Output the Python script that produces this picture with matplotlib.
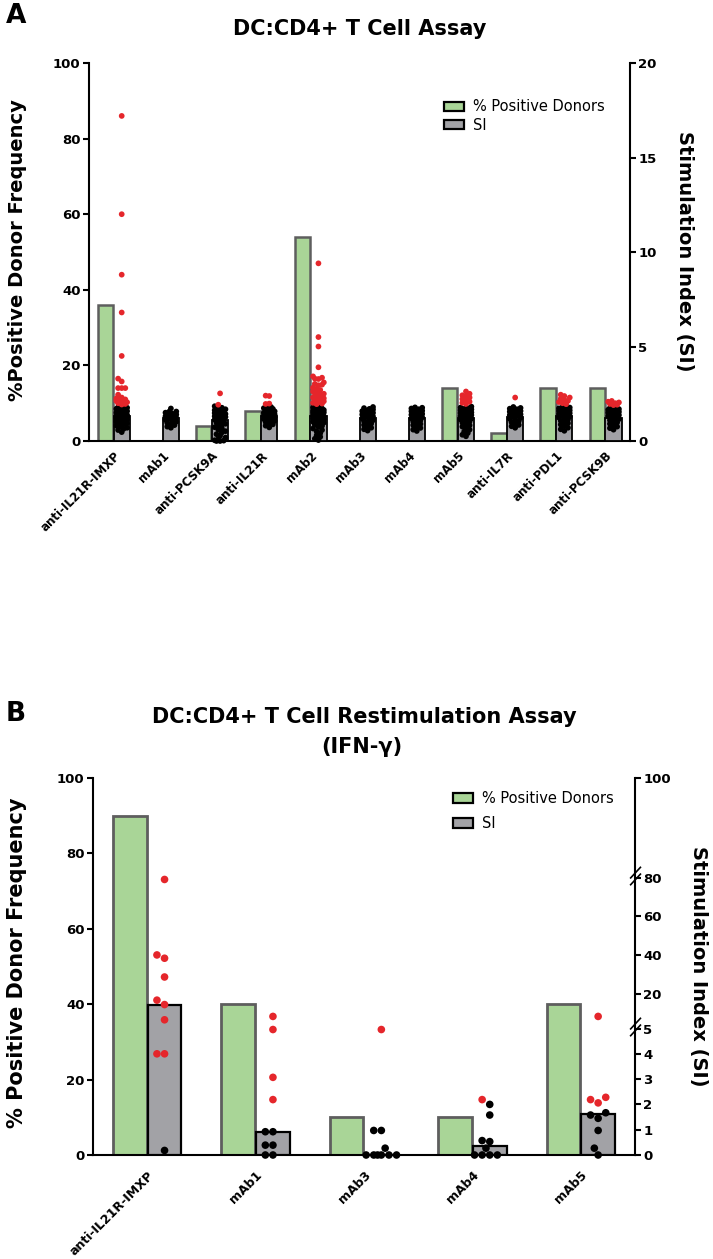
import numpy as np
import matplotlib
matplotlib.use('Agg')
import matplotlib.pyplot as plt
from matplotlib.patches import Patch

plt.rcParams['font.family'] = ['DejaVu Sans']
plt.rcParams['font.weight'] = 'bold'
plt.rcParams['axes.linewidth'] = 1.5

# ---- Panel A data: DC:CD4+ T cell assay ----
a_labels = ['anti-IL21R-IMXP', 'mAb1', 'anti-PCSK9A', 'anti-IL21R', 'mAb2', 'mAb3',
            'mAb4', 'mAb5', 'anti-IL7R', 'anti-PDL1', 'anti-PCSK9B']
a_pct_pos = [36, 0, 4, 8, 54, 0, 0, 14, 2, 14, 14]
a_si_bar = [1.3, 1.2, 1.1, 1.3, 1.3, 1.2, 1.2, 1.2, 1.25, 1.3, 1.2]
a_si_black = [
    [1.79, 1.76, 1.74, 1.71, 1.7, 1.66, 1.64, 1.6, 1.58, 1.57, 1.53, 1.5, 1.47, 1.46, 1.41, 1.38,
     1.36, 1.33, 1.3, 1.27, 1.22, 1.2, 1.16, 1.12, 1.08, 1.03, 0.98, 0.93, 0.88, 0.81, 0.77, 0.7,
     0.64, 0.58, 0.47],
    [1.72, 1.56, 1.55, 1.5, 1.44, 1.4, 1.36, 1.31, 1.28, 1.22, 1.18, 1.12, 1.07, 1.02, 0.96,
     0.9, 0.84, 0.76, 0.7],
    [1.84, 1.76, 1.72, 1.68, 1.63, 1.6, 1.55, 1.52, 1.48, 1.43, 1.4, 1.36, 1.31, 1.27, 1.22,
     1.18, 1.13, 1.08, 1.02, 0.97, 0.91, 0.85, 0.79, 0.73, 0.66, 0.6, 0.52, 0.45, 0.36, 0.28,
     0.18, 0.1, 0.04, 0.0, 0.0, 0.02],
    [1.8, 1.78, 1.74, 1.7, 1.67, 1.63, 1.6, 1.57, 1.52, 1.49, 1.45, 1.41, 1.38, 1.33, 1.3, 1.26,
     1.2, 1.16, 1.11, 1.06, 1.0, 0.95, 0.88, 0.81, 0.72],
    [1.8, 1.77, 1.75, 1.72, 1.69, 1.66, 1.64, 1.6, 1.58, 1.55, 1.51, 1.49, 1.45, 1.42, 1.39,
     1.35, 1.31, 1.28, 1.24, 1.2, 1.15, 1.11, 1.07, 1.02, 0.97, 0.92, 0.86, 0.8, 0.74, 0.66,
     0.58, 0.5, 0.41, 0.3, 0.22, 0.12, 0.05],
    [1.8, 1.74, 1.7, 1.66, 1.61, 1.58, 1.53, 1.49, 1.44, 1.4, 1.35, 1.3, 1.26, 1.2, 1.15, 1.1,
     1.04, 0.98, 0.92, 0.85, 0.78, 0.7, 0.62, 0.55],
    [1.78, 1.76, 1.72, 1.68, 1.64, 1.6, 1.57, 1.52, 1.48, 1.43, 1.39, 1.34, 1.3, 1.25, 1.2,
     1.14, 1.09, 1.03, 0.97, 0.9, 0.84, 0.76, 0.69, 0.6, 0.53],
    [1.82, 1.77, 1.74, 1.7, 1.67, 1.63, 1.6, 1.55, 1.51, 1.48, 1.44, 1.4, 1.37, 1.32, 1.28,
     1.24, 1.19, 1.14, 1.08, 1.03, 0.97, 0.9, 0.83, 0.76, 0.68, 0.6, 0.5, 0.42, 0.33, 0.25],
    [1.8, 1.75, 1.71, 1.68, 1.63, 1.59, 1.55, 1.5, 1.46, 1.41, 1.37, 1.32, 1.27, 1.22, 1.17,
     1.11, 1.05, 0.99, 0.92, 0.85, 0.78, 0.7],
    [1.8, 1.77, 1.73, 1.7, 1.66, 1.62, 1.59, 1.55, 1.51, 1.47, 1.43, 1.38, 1.34, 1.29, 1.24,
     1.19, 1.13, 1.07, 1.01, 0.94, 0.87, 0.79, 0.7, 0.62, 0.54],
    [1.75, 1.72, 1.69, 1.65, 1.62, 1.58, 1.54, 1.5, 1.46, 1.42, 1.37, 1.32, 1.27, 1.22, 1.16,
     1.1, 1.04, 0.98, 0.91, 0.84, 0.76, 0.68, 0.6],
]
a_si_red = [
    [17.2, 12.0, 8.8, 6.8, 4.5, 3.3, 3.15, 2.8, 2.8, 2.8, 2.45, 2.3, 2.25, 2.2, 2.2, 2.12,
     2.1, 2.05, 2.0, 1.96, 1.93],
    [],
    [2.52, 1.92],
    [2.4, 2.38, 1.98, 1.96],
    [9.4, 5.5, 5.0, 3.9, 3.42, 3.35, 3.3, 3.28, 3.1, 3.02, 2.98, 2.95, 2.82, 2.76, 2.7, 2.62,
     2.56, 2.5, 2.46, 2.41, 2.38, 2.34, 2.3, 2.26, 2.21, 2.18, 2.14, 2.1, 2.05, 2.02, 1.98, 1.95],
    [],
    [],
    [2.62, 2.5, 2.42, 2.36, 2.3, 2.22, 2.15, 2.08, 2.02, 1.96],
    [2.3],
    [2.45, 2.38, 2.3, 2.24, 2.18, 2.12, 2.06, 2.0, 1.95],
    [2.12, 2.08, 2.04, 2.0, 1.96, 1.92, 1.9],
]

# ---- Panel B data: restimulation assay (IFN-g) ----
b_labels = ['anti-IL21R-IMXP', 'mAb1', 'mAb3', 'mAb4', 'mAb5']
b_pct_pos = [90, 40, 10, 10, 40]
b_si_bar = [15.3, 0.92, 0.0, 0.37, 1.63]
b_si_red = [[79, 40, 38.3, 28.6, 17.2, 15.3, 8.75, 4.0, 4.0],
            [10.2, 4.96, 3.07, 2.19],
            [4.96],
            [2.19],
            [10.2, 2.28, 2.19, 2.06]]
b_si_black = [[0.18],
              [0.92, 0.92, 0.39, 0.39, 0, 0],
              [0.97, 0.97, 0.27, 0, 0, 0, 0, 0, 0],
              [2.0, 1.58, 0.57, 0.53, 0.27, 0, 0, 0, 0],
              [1.67, 1.58, 1.45, 0.97, 0.27, 0]]
# broken right axis of panel B: SI value -> height on the 0-100 scale
b_si_breaks = [0, 5, 20, 80, 100]
b_axis_pos = [0, 33.55, 42.8, 73.6, 100]
b_si_ticks = [0, 1, 2, 3, 4, 5, 20, 40, 60, 80, 100]

GREEN = '#a9d597'
GREEN_EDGE = '#5e5e5e'
GRAY = '#a2a2a6'
RED = '#e5262b'

W, H = 713, 1259
fig = plt.figure(figsize=(W / 100, H / 100), dpi=100)


def px_axes(l, t, r, b):
    return fig.add_axes([l / W, 1 - b / H, (r - l) / W, (b - t) / H])


def swarm(ax, xc, vals, d, half):
    # simple beeswarm in pixel space, kept inside +-half pixels
    vals = np.asarray(vals, float)
    if len(vals) == 0:
        return np.array([])
    ys = ax.transData.transform(np.column_stack([np.full(len(vals), xc), vals]))[:, 1]
    ppu = ax.transData.transform((1, 0))[0] - ax.transData.transform((0, 0))[0]
    step = d / 2
    cands = [0.0]
    k = 1
    while k * step <= half + 1e-6:
        cands += [-k * step, k * step]
        k += 1
    offs = np.zeros(len(vals))
    placed = []
    for i in np.argsort(ys, kind='stable'):
        y = ys[i]
        best, best_d = None, -1
        for c in cands:
            md = min([np.hypot(c - px, y - py) for px, py in placed] or [1e9])
            if md >= d * 0.98:
                best = c
                break
            if md > best_d:
                best_d, best_c = md, c
        if best is None:
            best = best_c
        offs[i] = best
        placed.append((best, y))
    return xc + offs / ppu


def style_axes(ax, ax2, xpad):
    for s in ['top', 'right']:
        ax.spines[s].set_visible(False)
    for s in ['top', 'left', 'bottom']:
        ax2.spines[s].set_visible(False)
    ax.tick_params(axis='y', direction='out', length=4, width=1.5, labelsize=9.5, pad=2)
    ax2.tick_params(axis='y', direction='out', length=4, width=1.5, labelsize=9.5, pad=2)
    ax.tick_params(axis='x', length=0, pad=xpad)


handles = [Patch(facecolor=GREEN, edgecolor='black', linewidth=1.6),
           Patch(facecolor=GRAY, edgecolor='black', linewidth=1.6)]

# ================= Panel A =================
axA = px_axes(89, 63, 630, 441)
xa = np.arange(len(a_labels))
axA.set_xlim(-0.5, len(a_labels) - 0.5)
axA.set_ylim(0, 100)
axA.bar(xa - 0.165, a_pct_pos, width=0.31, color=GREEN, edgecolor=GREEN_EDGE, linewidth=1.8)
axA2 = axA.twinx()
axA2.set_ylim(0, 20)
axA2.bar(xa + 0.165, a_si_bar, width=0.33, color=GRAY, edgecolor='black', linewidth=1.3)
for i in range(len(a_labels)):
    vals = a_si_black[i] + a_si_red[i]
    cols = ['black'] * len(a_si_black[i]) + [RED] * len(a_si_red[i])
    xs = swarm(axA2, xa[i] + 0.165, vals, 3.6, 6)
    axA2.scatter(xs, vals, s=17, c=cols, linewidths=0, clip_on=False, zorder=3)
axA.set_yticks([0, 20, 40, 60, 80, 100])
axA2.set_yticks([0, 5, 10, 15, 20])
axA.set_xticks(xa)
axA.set_xticklabels(a_labels, rotation=45, ha='right', rotation_mode='anchor', fontsize=8.5)
style_axes(axA, axA2, 6)
axA.legend(handles, ['% Positive Donors', 'SI'], loc='upper left',
           bbox_to_anchor=(437 / W, 1 - 92 / H), bbox_transform=fig.transFigure,
           frameon=False, prop={'size': 10.5, 'weight': 'normal'}, borderpad=0,
           handlelength=1.35, handleheight=0.6, handletextpad=0.6, labelspacing=0.25)

fig.text(16 / W, 1 - 16 / H, 'A', fontsize=19, ha='center', va='center')
fig.text(360 / W, 1 - 29 / H, 'DC:CD4+ T Cell Assay', fontsize=15, ha='center', va='center')
fig.text(18 / W, 1 - 250 / H, '%Positive Donor Frequency', rotation=90, fontsize=14,
         ha='center', va='center')
fig.text(684 / W, 1 - 251 / H, 'Stimulation Index (SI)', rotation=270, fontsize=14,
         ha='center', va='center')

# ================= Panel B =================
def b_fwd(v):
    return np.interp(v, b_si_breaks, b_axis_pos)


def b_inv(u):
    return np.interp(u, b_axis_pos, b_si_breaks)


axB = px_axes(93, 778, 635, 1155)
xb = np.arange(len(b_labels))
axB.set_xlim(-0.5, len(b_labels) - 0.5)
axB.set_ylim(0, 100)
axB.bar(xb - 0.16, b_pct_pos, width=0.31, color=GREEN, edgecolor=GREEN_EDGE, linewidth=2.0)
axB2 = axB.twinx()
axB2.set_yscale('function', functions=(b_fwd, b_inv))
axB2.set_ylim(0, 100)
axB2.bar(xb + 0.16, b_si_bar, width=0.31, color=GRAY, edgecolor='black', linewidth=1.6)
for i in range(len(b_labels)):
    vals = b_si_black[i] + b_si_red[i]
    cols = ['black'] * len(b_si_black[i]) + [RED] * len(b_si_red[i])
    xs = swarm(axB2, xb[i] + 0.16, vals, 7.6, 17)
    axB2.scatter(xs, vals, s=30, c=cols, linewidths=0, clip_on=False, zorder=3)
axB.set_yticks([0, 20, 40, 60, 80, 100])
axB2.set_yticks(b_si_ticks)
axB2.set_yticklabels([str(t) for t in b_si_ticks])
axB2.yaxis.set_minor_locator(plt.NullLocator())
axB.set_xticks(xb)
axB.set_xticklabels(b_labels, rotation=45, ha='right', rotation_mode='anchor', fontsize=9)
style_axes(axB, axB2, 10)
# break marks on the right axis
for v in [5, 80]:
    yf = b_fwd(v) / 100 + 0.004
    for dy in (-0.009, 0.009):
        axB2.plot([0.992, 1.01], [yf + dy - 0.014, yf + dy + 0.014], transform=axB2.transAxes,
                  color='black', lw=1.2, clip_on=False)
axB.legend(handles, ['% Positive Donors', 'SI'], loc='upper left',
           bbox_to_anchor=(446 / W, 1 - 784 / H), bbox_transform=fig.transFigure,
           frameon=False, prop={'size': 10.5, 'weight': 'normal'}, borderpad=0,
           handlelength=1.35, handleheight=0.7, handletextpad=0.6, labelspacing=0.65)

fig.text(16 / W, 1 - 714 / H, 'B', fontsize=19, ha='center', va='center')
fig.text(364 / W, 1 - 717 / H, 'DC:CD4+ T Cell Restimulation Assay', fontsize=15,
         ha='center', va='center')
fig.text(362 / W, 1 - 747 / H, '(IFN-\u03b3)', fontsize=15, ha='center', va='center')
fig.text(17 / W, 1 - 963 / H, '% Positive Donor Frequency', rotation=90, fontsize=15,
         ha='center', va='center')
fig.text(698 / W, 1 - 966 / H, 'Stimulation Index (SI)', rotation=270, fontsize=14,
         ha='center', va='center')

fig.savefig('out.png', dpi=100)
